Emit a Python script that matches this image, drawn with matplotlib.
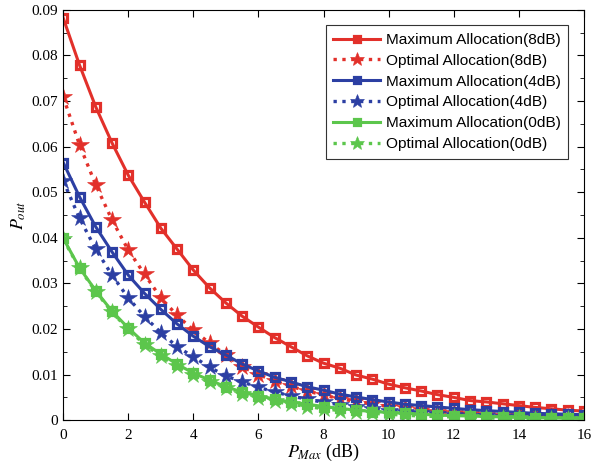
import numpy as np
import matplotlib
matplotlib.use("Agg")
import matplotlib.pyplot as plt
from matplotlib.ticker import MultipleLocator, FuncFormatter

plt.rcParams['mathtext.fontset'] = 'stix'
plt.rcParams['font.family'] = ['Liberation Serif', 'DejaVu Serif']

x = np.arange(0, 16.01, 0.5)

max_8 = [0.0882, 0.0779, 0.0687, 0.0608, 0.0537, 0.0478, 0.0421, 0.0375, 0.0329, 0.0290,
         0.0257, 0.0228, 0.0204, 0.0181, 0.0161, 0.0141, 0.0125, 0.0114, 0.0099, 0.0090,
         0.0079, 0.0071, 0.0064, 0.0056, 0.0050, 0.0043, 0.0040, 0.0036, 0.0032, 0.0028,
         0.0025, 0.0022, 0.0020]
opt_8 = [0.0709, 0.0604, 0.0516, 0.0439, 0.0373, 0.0320, 0.0268, 0.0230, 0.0197, 0.0169,
         0.0143, 0.0117, 0.0100, 0.0086, 0.0074, 0.0064, 0.0055, 0.0047, 0.0041, 0.0035,
         0.0030, 0.0026, 0.0022, 0.0019, 0.0016, 0.0014, 0.0012, 0.0010, 0.0009, 0.0008,
         0.0007, 0.0006, 0.0005]
max_4 = [0.0565, 0.0490, 0.0424, 0.0369, 0.0318, 0.0278, 0.0243, 0.0211, 0.0184, 0.0161,
         0.0143, 0.0123, 0.0108, 0.0094, 0.0084, 0.0073, 0.0066, 0.0057, 0.0051, 0.0045,
         0.0040, 0.0035, 0.0032, 0.0029, 0.0026, 0.0023, 0.0021, 0.0019, 0.0017, 0.0015,
         0.0014, 0.0013, 0.0012]
opt_4 = [0.0525, 0.0443, 0.0375, 0.0318, 0.0268, 0.0227, 0.0192, 0.0161, 0.0139, 0.0116,
         0.0097, 0.0084, 0.0072, 0.0062, 0.0053, 0.0046, 0.0039, 0.0034, 0.0029, 0.0025,
         0.0021, 0.0018, 0.0016, 0.0014, 0.0012, 0.0010, 0.0009, 0.0008, 0.0007, 0.0006,
         0.0006, 0.0005, 0.0005]
max_0 = [0.0399, 0.0334, 0.0284, 0.0239, 0.0202, 0.0169, 0.0145, 0.0123, 0.0103, 0.0088,
         0.0073, 0.0062, 0.0054, 0.0046, 0.0040, 0.0035, 0.0030, 0.0026, 0.0022, 0.0019,
         0.0017, 0.0015, 0.0013, 0.0011, 0.0010, 0.0009, 0.0008, 0.0007, 0.0006, 0.0005,
         0.0005, 0.0004, 0.0004]
opt_0 = [0.0397, 0.0333, 0.0282, 0.0237, 0.0199, 0.0166, 0.0140, 0.0118, 0.0099, 0.0083,
         0.0070, 0.0058, 0.0049, 0.0041, 0.0035, 0.0030, 0.0025, 0.0021, 0.0018, 0.0015,
         0.0013, 0.0011, 0.0009, 0.0008, 0.0007, 0.0006, 0.0005, 0.0004, 0.0004, 0.0003,
         0.0003, 0.0002, 0.0002]

labels = ['Maximum Allocation(8dB)', 'Optimal Allocation(8dB)',
          'Maximum Allocation(4dB)', 'Optimal Allocation(4dB)',
          'Maximum Allocation(0dB)', 'Optimal Allocation(0dB)']

red = '#E2302A'
blue = '#2C3FA3'
green = '#5CC64C'

fig = plt.figure(figsize=(5.91, 4.70), dpi=100)
ax = fig.add_axes([0.107, 0.106, 0.881, 0.873])

series = [(max_8, red, 'max'), (opt_8, red, 'opt'),
          (max_4, blue, 'max'), (opt_4, blue, 'opt'),
          (max_0, green, 'max'), (opt_0, green, 'opt')]
for (vals, c, kind), lab in zip(series, labels):
    if kind == 'max':
        ax.plot(x, vals, '-', color=c, lw=2.2, marker='s', ms=5.2, mfc='none',
                mec=c, mew=2.3, label=lab)
    else:
        ax.plot(x, vals, ':', color=c, lw=2.4, marker='*', ms=13, mfc=c,
                mec=c, mew=0.4, label=lab)

ax.set_xlim(0, 16)
ax.set_ylim(0, 0.09)
ax.xaxis.set_major_locator(MultipleLocator(2))
ax.yaxis.set_major_locator(MultipleLocator(0.01))
ax.yaxis.set_minor_locator(MultipleLocator(0.005))
ax.yaxis.set_major_formatter(FuncFormatter(lambda v, p: '%g' % round(v, 4)))
ax.tick_params(which='both', direction='in', top=True, right=True, labelsize=11)
ax.tick_params(which='major', length=5)
ax.tick_params(which='minor', length=3)
ax.tick_params(axis='x', pad=6)
ax.set_xlabel(r'$P_{Max}$ (dB)', fontsize=13, labelpad=0)
ax.set_ylabel(r'$P_{out}$', fontsize=13, labelpad=3)

leg = ax.legend(loc='upper right', prop={'family': 'Liberation Sans', 'size': 11.1},
                fancybox=False, edgecolor='#333333', framealpha=1,
                handlelength=3.0, borderaxespad=1.0, labelspacing=0.44,
                handletextpad=0.4, borderpad=0.5, markerscale=0.8)
leg.get_frame().set_linewidth(0.8)

fig.savefig('out.png', dpi=100)
